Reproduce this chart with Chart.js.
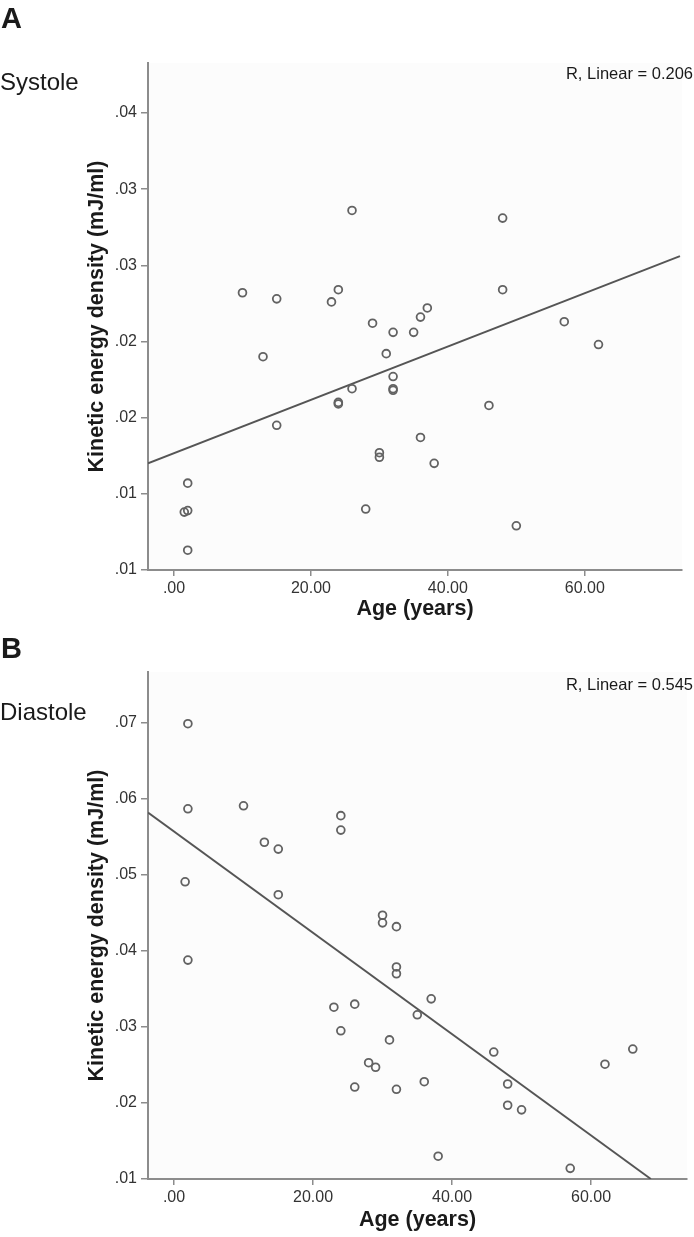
<!DOCTYPE html>
<html>
<head>
<meta charset="utf-8">
<script src="https://cdn.jsdelivr.net/npm/chart.js@4.4.1/dist/chart.umd.min.js"></script>
<style>
body { margin: 0; background: #fff; }
canvas { display: block; }
</style>
</head>
<body>
<canvas id="sys" width="694" height="620"></canvas>
<canvas id="dia" width="694" height="617"></canvas>
<script>
// Systole: age (years) and kinetic energy density (mJ/ml)
const ageSys = [10, 15, 23, 24, 26, 48, 48, 37, 36, 29, 32, 35, 57, 62, 31, 32, 32, 32, 26, 24, 24, 13, 15, 46, 36, 30, 30, 38, 28, 50, 2, 1.5, 2, 2];
const keSys = [0.0282, 0.0278, 0.0276, 0.0284, 0.0336, 0.0331, 0.0284, 0.0272, 0.0266, 0.0262, 0.0256, 0.0256, 0.0263, 0.0248, 0.0242, 0.0227, 0.0219, 0.0218, 0.0219, 0.0210, 0.0209, 0.0240, 0.0195, 0.0208, 0.0187, 0.0177, 0.0174, 0.0170, 0.0140, 0.0129, 0.0157, 0.0138, 0.0139, 0.0113];

// Diastole
const ageDia = [2, 2, 10, 13, 15, 1.6, 15, 24, 24, 30, 30, 32, 2, 23, 24, 32, 32, 37, 26, 35, 31, 46, 66, 62, 28, 29, 26, 32, 36, 48, 48, 50, 38, 57];
const keDia = [0.0699, 0.0587, 0.0591, 0.0543, 0.0534, 0.0491, 0.0474, 0.0578, 0.0559, 0.0447, 0.0437, 0.0432, 0.0388, 0.0326, 0.0295, 0.0379, 0.0370, 0.0337, 0.0330, 0.0316, 0.0283, 0.0267, 0.0271, 0.0251, 0.0253, 0.0247, 0.0221, 0.0218, 0.0228, 0.0225, 0.0197, 0.0191, 0.0130, 0.0114];

// linear fit line ends
const fitSysX = [-3.8, 73.9];
const fitSysY = [0.0170, 0.0306];
const fitDiaX = [-3.74, 68.6];
const fitDiaY = [0.0582, 0.0100];

const xTickVals = [0, 20, 40, 60];
const xTickLabels = ['.00', '20.00', '40.00', '60.00'];
const yTickValsSys = [0.010, 0.015, 0.020, 0.025, 0.030, 0.035, 0.040];
const yTickLabelsSys = ['.01', '.01', '.02', '.02', '.03', '.03', '.04'];
const yTickValsDia = [0.01, 0.02, 0.03, 0.04, 0.05, 0.06, 0.07];
const yTickLabelsDia = ['.01', '.02', '.03', '.04', '.05', '.06', '.07'];

const FONT = '"Liberation Sans", Arial, sans-serif';
const AXIS_COLOR = '#8c8c8c';

const plotBg = {
	id: 'plotBg',
	beforeDraw(chart) {
		const { ctx, chartArea: a } = chart;
		ctx.save();
		ctx.fillStyle = '#fcfcfc';
		ctx.fillRect(a.left, a.top, a.right - a.left, a.bottom - a.top);
		ctx.restore();
	}
};

const panelText = {
	id: 'panelText',
	afterDraw(chart, args, o) {
		const ctx = chart.ctx;
		ctx.save();
		ctx.fillStyle = '#1a1a1a';
		ctx.textBaseline = 'alphabetic';
		ctx.font = 'bold 29px ' + FONT;
		ctx.fillText(o.letter, 1, o.letterY);
		ctx.font = '24px ' + FONT;
		ctx.fillText(o.phase, 0, o.phaseY);
		ctx.font = '16.5px ' + FONT;
		ctx.textAlign = 'right';
		ctx.fillText(o.rText, 693, o.rY);
		ctx.restore();
	}
};

function toPoints(xs, ys) {
	return xs.map((x, i) => ({ x, y: ys[i] }));
}

function makePanel(id, cfg) {
	new Chart(document.getElementById(id), {
		type: 'scatter',
		data: {
			datasets: [{
				data: toPoints(cfg.ages, cfg.ke),
				pointStyle: 'circle',
				pointRadius: 3.9,
				pointBorderWidth: 1.8,
				pointBorderColor: '#626262',
				pointBackgroundColor: 'rgba(0,0,0,0)'
			}, {
				type: 'line',
				data: toPoints(cfg.fitX, cfg.fitY),
				borderColor: '#555',
				borderWidth: 1.9,
				pointRadius: 0,
				fill: false
			}]
		},
		options: {
			responsive: false,
			animation: false,
			devicePixelRatio: 1,
			layout: { padding: { left: 0, top: cfg.top, right: cfg.right, bottom: 0 } },
			plugins: {
				legend: { display: false },
				tooltip: { enabled: false },
				panelText: cfg.text
			},
			scales: {
				x: {
					type: 'linear',
					min: cfg.xMin,
					max: cfg.xMax,
					afterFit: s => { s.height = cfg.xHeight; },
					afterBuildTicks: s => { s.ticks = xTickVals.map(v => ({ value: v })); },
					border: { display: true, color: AXIS_COLOR, width: 2 },
					grid: { drawOnChartArea: false, drawTicks: true, tickLength: 6, color: AXIS_COLOR, lineWidth: 1.5 },
					ticks: {
						padding: 3,
						color: '#333',
						font: { family: FONT, size: 16 },
						callback: (v, i) => xTickLabels[i]
					},
					title: {
						display: true,
						text: 'Age (years)',
						color: '#1a1a1a',
						font: { family: FONT, size: 21.5, weight: 'bold', lineHeight: 1 },
						padding: { top: 0, bottom: cfg.xTitlePad }
					}
				},
				y: {
					type: 'linear',
					min: cfg.yMin,
					max: cfg.yMax,
					afterFit: s => { s.width = 148; },
					afterBuildTicks: s => { s.ticks = cfg.yVals.map(v => ({ value: v })); },
					border: { display: true, color: AXIS_COLOR, width: 2 },
					grid: { drawOnChartArea: false, drawTicks: true, tickLength: 7, color: AXIS_COLOR, lineWidth: 1.5 },
					ticks: {
						padding: 4,
						color: '#333',
						font: { family: FONT, size: 16 },
						callback: (v, i) => cfg.yLabels[i]
					},
					title: {
						display: true,
						text: 'Kinetic energy density (mJ/ml)',
						color: '#1a1a1a',
						font: { family: FONT, size: 21.5, weight: 'bold', lineHeight: 1 },
						padding: { top: 86.5, bottom: 0 }
					}
				}
			}
		},
		plugins: [plotBg, panelText]
	});
}

makePanel('sys', {
	ages: ageSys, ke: keSys, fitX: fitSysX, fitY: fitSysY,
	xMin: -3.8, xMax: 74.2, yMin: 0.010, yMax: 0.04328,
	yVals: yTickValsSys, yLabels: yTickLabelsSys,
	top: 63, right: 12, xHeight: 50, xTitlePad: 0,
	text: { letter: 'A', letterY: 28, phase: 'Systole', phaseY: 90, rText: 'R, Linear = 0.206', rY: 79 }
});

makePanel('dia', {
	ages: ageDia, ke: keDia, fitX: fitDiaX, fitY: fitDiaY,
	xMin: -3.74, xMax: 73.8, yMin: 0.01, yMax: 0.0767,
	yVals: yTickValsDia, yLabels: yTickLabelsDia,
	top: 52, right: 7, xHeight: 58, xTitlePad: 6,
	text: { letter: 'B', letterY: 38, phase: 'Diastole', phaseY: 100, rText: 'R, Linear = 0.545', rY: 70 }
});
</script>
</body>
</html>
